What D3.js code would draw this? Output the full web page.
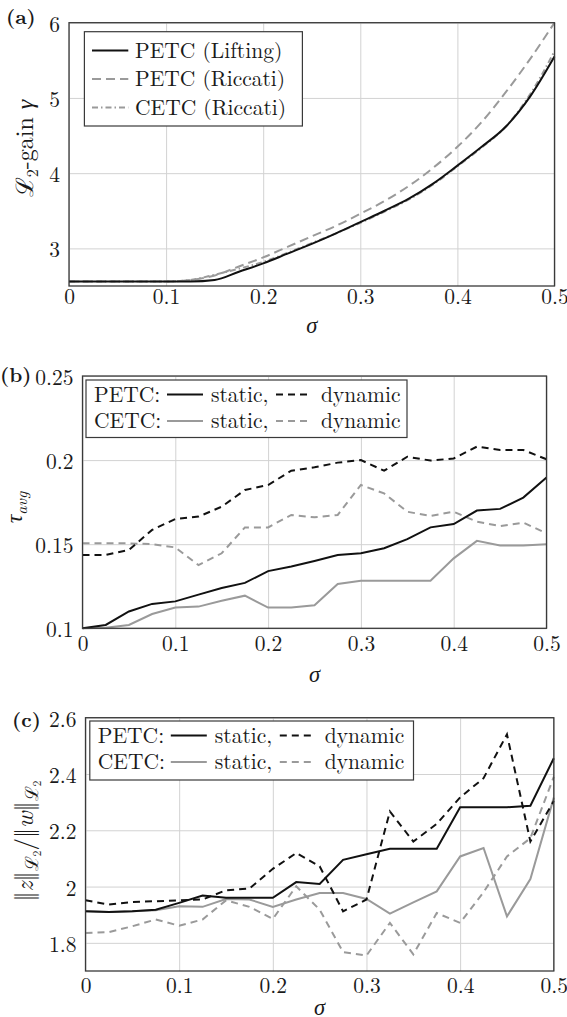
<!DOCTYPE html>
<html>
<head>
<meta charset="utf-8">
<script src="https://cdn.jsdelivr.net/npm/d3@7"></script>
<style>
  body { margin: 0; background: #fff; }
</style>
</head>
<body>
<div id="chart"></div>
<script>
// Data
const sigma = [0, 0.025, 0.05, 0.075, 0.1, 0.125, 0.15, 0.175, 0.2, 0.225, 0.25,
  0.275, 0.3, 0.325, 0.35, 0.375, 0.4, 0.425, 0.45, 0.475, 0.5];
const sigmaTicks = [0, 0.1, 0.2, 0.3, 0.4, 0.5];

// (a) L2-gain
const gainLifting = [2.56, 2.56, 2.56, 2.56, 2.56, 2.56, 2.58, 2.69, 2.8, 2.93, 3.06,
  3.2, 3.35, 3.5, 3.66, 3.86, 4.1, 4.35, 4.62, 5.02, 5.55];
const gainRiccatiPetc = [2.56, 2.56, 2.56, 2.56, 2.56, 2.58, 2.64, 2.76, 2.88, 3.02, 3.16,
  3.3, 3.46, 3.63, 3.83, 4.07, 4.35, 4.68, 5.08, 5.52, 6.0];
const gainRiccatiCetc = [2.56, 2.56, 2.56, 2.56, 2.56, 2.58, 2.65, 2.73, 2.82, 2.94, 3.07,
  3.2, 3.34, 3.49, 3.65, 3.85, 4.09, 4.34, 4.62, 5.05, 5.62];
const gainTicks = [3, 4, 5, 6];

// (b) average inter-event time
const tauPetcStatic = [0.1, 0.102, 0.11, 0.1145, 0.116, 0.12, 0.124, 0.127, 0.134, 0.1367, 0.14,
  0.1436, 0.1446, 0.1476, 0.153, 0.16, 0.162, 0.17, 0.171, 0.1777, 0.1896];
const tauPetcDynamic = [0.1436, 0.1436, 0.1466, 0.1585, 0.165, 0.1664, 0.1723, 0.1822, 0.1852, 0.1937, 0.1957,
  0.1985, 0.2, 0.1937, 0.202, 0.1997, 0.201, 0.208, 0.206, 0.206, 0.2005];
const tauCetcStatic = [0.1, 0.1004, 0.102, 0.1085, 0.1123, 0.1129, 0.1164, 0.1194, 0.1123, 0.1123, 0.1137,
  0.1264, 0.1283, 0.1283, 0.1283, 0.1283, 0.1416, 0.152, 0.1493, 0.1493, 0.1499];
const tauCetcDynamic = [0.1505, 0.1505, 0.1505, 0.15, 0.1481, 0.1376, 0.1446, 0.16, 0.16, 0.1674, 0.166,
  0.1674, 0.1852, 0.1802, 0.1693, 0.1668, 0.1693, 0.1634, 0.1608, 0.1628, 0.1565];
const tauTicks = [0.1, 0.15, 0.2, 0.25];

// (c) gain ratio
const ratioPetcStatic = [1.912, 1.91, 1.912, 1.918, 1.942, 1.968, 1.96, 1.96, 1.96, 2.016, 2.009,
  2.095, 2.115, 2.134, 2.134, 2.134, 2.282, 2.282, 2.282, 2.287, 2.456];
const ratioPetcDynamic = [1.951, 1.936, 1.945, 1.948, 1.951, 1.954, 1.987, 1.993, 2.063, 2.119, 2.072,
  1.912, 1.954, 2.267, 2.16, 2.223, 2.317, 2.385, 2.541, 2.16, 2.304];
const ratioCetcStatic = [1.912, 1.91, 1.912, 1.916, 1.93, 1.928, 1.956, 1.954, 1.928, 1.954, 1.977,
  1.977, 1.956, 1.904, 1.944, 1.983, 2.107, 2.137, 1.894, 2.027, 2.316];
const ratioCetcDynamic = [1.835, 1.838, 1.859, 1.883, 1.861, 1.883, 1.951, 1.928, 1.885, 2.001, 1.918,
  1.767, 1.755, 1.871, 1.759, 1.906, 1.871, 1.98, 2.107, 2.172, 2.39];
const ratioTicks = [1.8, 2, 2.2, 2.4, 2.6];

// Styles
const black = "#111";
const gray = "#9a9a9a";
const dashed = "7,5";
const styles = {
  lifting: { color: black, dash: null },
  riccatiPetc: { color: gray, dash: "9,5" },
  riccatiCetc: { color: gray, dash: "6,3,1.5,3" },
  petcStatic: { color: black, dash: null },
  petcDynamic: { color: black, dash: dashed },
  cetcStatic: { color: gray, dash: null },
  cetcDynamic: { color: gray, dash: dashed },
};

const width = 567;
const height = 1017;
const fontSize = 21.5;
const FONT = "Latin Modern Roman";
const textColor = "#1a1a1a";

const svg = d3
  .select("#chart")
  .append("svg")
  .attr("width", width)
  .attr("height", height)
  .attr("font-family", FONT)
  .attr("fill", textColor);

svg.append("rect").attr("width", width).attr("height", height).attr("fill", "#fff");

function txt(sel, x, y, s, size) {
  return sel
    .append("text")
    .attr("x", x)
    .attr("y", y)
    .attr("font-family", FONT)
    .attr("font-size", size || fontSize)
    .attr("fill", textColor)
    .text(s);
}

function panel(opts) {
  const [x0, x1, y0, y1] = opts.box;
  const xScale = d3.scaleLinear().domain([0, 0.5]).range([x0, x1]);
  const yScale = d3.scaleLinear().domain(opts.yDomain).range([y1, y0]);
  const g = svg.append("g");

  // grid
  const xGrid = g
    .append("g")
    .attr("transform", `translate(0, ${y1})`)
    .call(d3.axisBottom(xScale).tickValues(sigmaTicks).tickSize(-(y1 - y0)).tickFormat(""));
  const yGrid = g
    .append("g")
    .attr("transform", `translate(${x0}, 0)`)
    .call(d3.axisLeft(yScale).tickValues(opts.yTicks).tickSize(-(x1 - x0)).tickFormat(""));
  [xGrid, yGrid].forEach((a) => {
    a.select(".domain").remove();
    a.selectAll("line").attr("stroke", "#d2d2d2").attr("stroke-width", 1);
  });

  // tick labels
  const xAxis = g
    .append("g")
    .attr("transform", `translate(0, ${y1})`)
    .call(d3.axisBottom(xScale).tickValues(sigmaTicks).tickSize(0).tickPadding(opts.xPad).tickFormat(String));
  const yAxis = g
    .append("g")
    .attr("transform", `translate(${x0}, 0)`)
    .call(d3.axisLeft(yScale).tickValues(opts.yTicks).tickSize(0).tickPadding(9).tickFormat(String));
  [xAxis, yAxis].forEach((a) => {
    a.attr("font-family", FONT).attr("font-size", fontSize);
    a.select(".domain").remove();
    a.selectAll("text").attr("font-family", FONT).attr("fill", textColor);
  });
  yAxis.selectAll("text").attr("dy", "0.4em");

  // series
  const line = d3
    .line()
    .x((d) => xScale(d[0]))
    .y((d) => yScale(d[1]))
    .curve(opts.curve || d3.curveLinear);

  opts.series.forEach((s) => {
    g.append("path")
      .datum(sigma.map((v, i) => [v, s.values[i]]))
      .attr("fill", "none")
      .attr("stroke", s.style.color)
      .attr("stroke-width", 2)
      .attr("stroke-dasharray", s.style.dash)
      .attr("d", line);
  });

  // frame
  g.append("rect")
    .attr("x", x0)
    .attr("y", y0)
    .attr("width", x1 - x0)
    .attr("height", y1 - y0)
    .attr("fill", "none")
    .attr("stroke", "#3a3a3a")
    .attr("stroke-width", 1.3);

  // x label
  txt(g, (x0 + x1) / 2, opts.sigmaY, "σ", fontSize + 1)
    .attr("text-anchor", "middle")
    .attr("font-style", "italic");

  // panel tag
  txt(g, opts.tag[1], opts.tag[2], opts.tag[0], 20.5).attr("font-weight", "bold");

  // y label
  const yl = g
    .append("text")
    .attr("transform", `translate(${opts.yLabelX}, ${opts.yLabelY}) rotate(-90)`)
    .attr("text-anchor", "middle")
    .attr("font-family", FONT)
    .attr("fill", textColor)
    .attr("font-size", opts.yLabelSize || fontSize);
  opts.yLabel(yl);

  return g;
}

function sub(t, s, dy, italic, size) {
  t.append("tspan")
    .attr("dy", dy)
    .attr("font-size", size || 16)
    .attr("font-style", italic ? "italic" : null)
    .text(s);
}

// (a)
const gA = panel({
  box: [69, 554.5, 22.7, 286],
  yDomain: [2.5, 6],
  yTicks: gainTicks,
  xPad: 3,
  sigmaY: 333,
  tag: ["(a)", 6, 24],
  yLabelX: 33,
  yLabelY: 148.5,
  yLabelSize: 24,
  curve: d3.curveMonotoneX,
  series: [
    { values: gainRiccatiCetc, style: styles.riccatiCetc },
    { values: gainRiccatiPetc, style: styles.riccatiPetc },
    { values: gainLifting, style: styles.lifting },
  ],
  yLabel: (t) => {
    t.append("tspan").text("ℒ");
    sub(t, "2", 5, false);
    t.append("tspan").attr("dy", -5).text("-gain ");
    t.append("tspan").attr("font-style", "italic").text("γ");
  },
});

// legend (a)
const legA = gA.append("g");
legA.append("rect")
  .attr("x", 84.4).attr("y", 31.7).attr("width", 218).attr("height", 94.3)
  .attr("fill", "#fff").attr("stroke", "#3a3a3a").attr("stroke-width", 1.2);
[
  ["PETC (Lifting)", styles.lifting, 50.5],
  ["PETC (Riccati)", styles.riccatiPetc, 79],
  ["CETC (Riccati)", styles.riccatiCetc, 107.5],
].forEach(([label, st, yy]) => {
  legA.append("line")
    .attr("x1", 92).attr("x2", 128.3).attr("y1", yy).attr("y2", yy)
    .attr("stroke", st.color).attr("stroke-width", 2).attr("stroke-dasharray", st.dash);
  txt(legA, 135, yy + 7.3, label);
});

// legend for (b) and (c)
function etcLegend(g, bx, by, bw, bh, rows) {
  const leg = g.append("g");
  leg.append("rect")
    .attr("x", bx).attr("y", by).attr("width", bw).attr("height", bh)
    .attr("fill", "#fff").attr("stroke", "#3a3a3a").attr("stroke-width", 1.2);
  rows.forEach(([name, st1, st2], i) => {
    const yy = by + 14.5 + i * 26.5;
    txt(leg, bx + 8, yy + 7.3, name);
    leg.append("line").attr("x1", bx + 81).attr("x2", bx + 117).attr("y1", yy).attr("y2", yy)
      .attr("stroke", st1.color).attr("stroke-width", 2);
    txt(leg, bx + 125, yy + 7.3, "static,");
    leg.append("line").attr("x1", bx + 190).attr("x2", bx + 222).attr("y1", yy).attr("y2", yy)
      .attr("stroke", st2.color).attr("stroke-width", 2).attr("stroke-dasharray", st2.dash);
    txt(leg, bx + 235, yy + 7.3, "dynamic");
  });
}

// (b)
const gB = panel({
  box: [82.5, 546.5, 376, 628.3],
  yDomain: [0.1, 0.25],
  yTicks: tauTicks,
  xPad: 7,
  sigmaY: 682,
  tag: ["(b)", 0, 382],
  yLabelX: 22,
  yLabelY: 507.5,
  yLabelSize: 24,
  series: [
    { values: tauCetcDynamic, style: styles.cetcDynamic },
    { values: tauCetcStatic, style: styles.cetcStatic },
    { values: tauPetcDynamic, style: styles.petcDynamic },
    { values: tauPetcStatic, style: styles.petcStatic },
  ],
  yLabel: (t) => {
    t.append("tspan").attr("font-style", "italic").text("τ");
    sub(t, "avg", 5, true);
  },
});
etcLegend(gB, 86, 380, 321, 57.5, [
  ["PETC:", styles.petcStatic, styles.petcDynamic],
  ["CETC:", styles.cetcStatic, styles.cetcDynamic],
]);

// (c)
const gC = panel({
  box: [85.5, 553.8, 717.7, 971],
  yDomain: [1.7, 2.6],
  yTicks: ratioTicks,
  xPad: 7,
  sigmaY: 1015,
  tag: ["(c)", 12, 727],
  yLabelX: 33,
  yLabelY: 841,
  yLabelSize: 25,
  series: [
    { values: ratioCetcDynamic, style: styles.cetcDynamic },
    { values: ratioCetcStatic, style: styles.cetcStatic },
    { values: ratioPetcDynamic, style: styles.petcDynamic },
    { values: ratioPetcStatic, style: styles.petcStatic },
  ],
  yLabel: (t) => {
    t.append("tspan").text("‖");
    t.append("tspan").attr("font-style", "italic").text("z");
    t.append("tspan").text("‖");
    sub(t, "ℒ", 5, false, 18);
    sub(t, "2", 3, false, 12);
    t.append("tspan").attr("dy", -8).text("/‖");
    t.append("tspan").attr("font-style", "italic").text("w");
    t.append("tspan").text("‖");
    sub(t, "ℒ", 5, false, 18);
    sub(t, "2", 3, false, 12);
  },
});
etcLegend(gC, 89.8, 721, 323.7, 59, [
  ["PETC:", styles.petcStatic, styles.petcDynamic],
  ["CETC:", styles.cetcStatic, styles.cetcDynamic],
]);
</script>
</body>
</html>
